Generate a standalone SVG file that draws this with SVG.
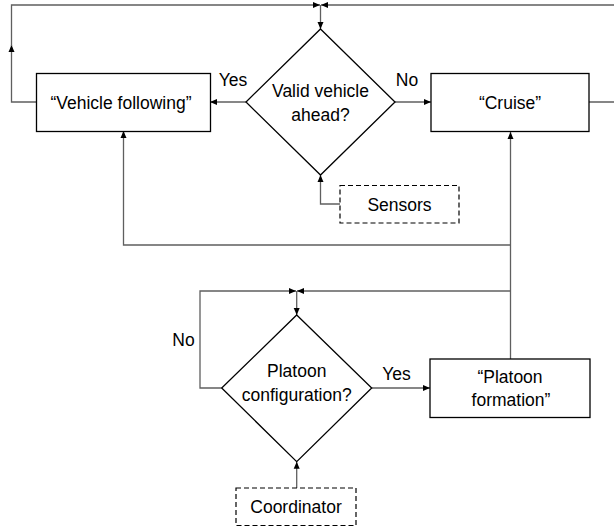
<svg xmlns="http://www.w3.org/2000/svg" width="614" height="527" viewBox="0 0 614 527">
<defs>
<marker id="ah" markerUnits="userSpaceOnUse" markerWidth="8" markerHeight="8" viewBox="0 0 8 8" refX="7" refY="4" orient="auto">
<path d="M0,1 L7,4 L0,7 Z" fill="#000"/>
</marker>
</defs>
<style>
.node{fill:#fff;stroke:#000;stroke-width:1.3}
.dash{fill:#fff;stroke:#000;stroke-width:1.2;stroke-dasharray:5,3}
.c{fill:none;stroke:#5f5f5f;stroke-width:1.3}
.a{marker-end:url(#ah)}
text{font-family:"Liberation Sans",Arial,sans-serif;font-size:17.5px;fill:#000;text-anchor:middle}
</style>
<rect width="614" height="527" fill="#fff"/>
<g id="connectors">
<path class="c a" d="M246,102 H210"/>
<path class="c a" d="M395,102 H431"/>
<path class="c a" d="M36,102 H11.5 V45"/>
<path class="c a" d="M11.5,46 V5 H320"/>
<path class="c a" d="M589,102 H615 V5 H321"/>
<path class="c a" d="M320.5,5 V29"/>
<path class="c a" d="M340,204 H320.5 V175"/>
<path class="c a" d="M510.5,359 V132"/>
<path class="c a" d="M510.5,245 H123.5 V131"/>
<path class="c a" d="M510.5,291 H297"/>
<path class="c a" d="M221.7,388 H200 V291 H296"/>
<path class="c a" d="M296.7,291 V315"/>
<path class="c a" d="M371.7,388 H430"/>
<path class="c a" d="M296.7,488 V461.7"/>
</g>
<g id="label-yes-top"><text x="233" y="86">Yes</text></g>
<g id="label-no-top"><text x="407" y="86">No</text></g>
<g id="label-yes-bottom"><text x="396.5" y="380">Yes</text></g>
<g id="label-no-bottom"><text x="183.5" y="346">No</text></g>
<g id="vehicle-following">
<rect class="node" x="36.5" y="73.5" width="174" height="58"/>
<text x="121" y="109">“Vehicle following”</text>
</g>
<g id="valid-vehicle">
<polygon class="node" points="320.5,29 395,102 320.5,175 246,102"/>
<text x="320.5" y="97">Valid vehicle</text>
<text x="320.5" y="121">ahead?</text>
</g>
<g id="cruise">
<rect class="node" x="431" y="73.5" width="158" height="58"/>
<text x="510" y="109">“Cruise”</text>
</g>
<g id="sensors">
<rect class="dash" x="340" y="185.5" width="119" height="37.5"/>
<text x="399.5" y="211">Sensors</text>
</g>
<g id="platoon-configuration">
<polygon class="node" points="296.7,315 371.7,388 296.7,461.7 221.7,388"/>
<text x="296.7" y="377">Platoon</text>
<text x="296.7" y="401">configuration?</text>
</g>
<g id="platoon-formation">
<rect class="node" x="430" y="359" width="160" height="58.5"/>
<text x="510" y="383">“Platoon</text>
<text x="511" y="406">formation”</text>
</g>
<g id="coordinator">
<rect class="dash" x="236" y="488" width="120" height="37.5"/>
<text x="296" y="513">Coordinator</text>
</g>
</svg>
